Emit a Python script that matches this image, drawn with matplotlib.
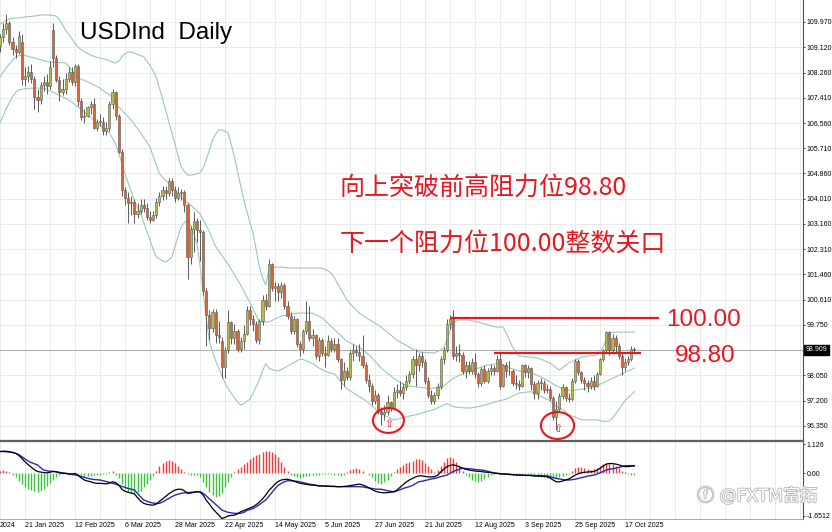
import matplotlib
matplotlib.use("Agg")
import matplotlib.pyplot as plt
import matplotlib.patheffects as pe
from matplotlib.patches import Ellipse

# ---------------- data (daily bars, index 0 = 9 Jan 2025) ----------------
opens = [
    109.15, 109.45, 109.75, 109.95, 109.30, 109.05, 108.95, 109.30, 108.05, 108.15,
    108.30, 108.05, 107.45, 107.35, 107.85, 107.95, 107.80, 109.70, 108.75, 108.00,
    107.60, 107.70, 108.05, 108.30, 107.95, 108.50, 107.30, 106.75, 106.80, 107.10,
    107.20, 106.40, 106.60, 106.60, 106.30, 106.40, 107.20, 107.60, 106.80, 105.60,
    104.30, 104.05, 103.85, 103.90, 103.50, 103.60, 103.80, 103.70, 103.40, 103.30,
    103.45, 103.90, 104.10, 104.30, 104.20, 104.60, 104.30, 104.05, 104.20, 104.25,
    103.80, 102.05, 103.00, 103.25, 102.95, 102.90, 100.90, 100.10, 99.65, 100.20,
    99.40, 99.20, 98.35, 98.90, 99.85, 99.30, 99.55, 98.95, 99.20, 99.45,
    100.25, 99.95, 99.80, 99.25, 99.90, 100.60, 100.40, 101.80, 101.00, 101.05,
    100.85, 101.10, 100.40, 100.05, 99.55, 99.95, 99.10, 98.95, 99.55, 99.90,
    99.30, 99.40, 98.70, 99.25, 98.80, 98.75, 99.20, 98.95, 99.10, 98.60,
    97.90, 98.20, 98.00, 98.80, 98.90, 98.85, 98.70, 98.40, 97.90, 97.70,
    97.20, 97.40, 96.85, 96.75, 96.80, 97.15, 96.95, 97.50, 97.55, 97.45,
    97.65, 97.85, 98.10, 98.60, 98.40, 98.70, 98.50, 97.85, 97.40, 97.20,
    97.40, 97.65, 98.60, 98.90, 99.80, 99.95, 98.70, 98.80, 98.75, 98.20,
    98.40, 98.20, 98.50, 98.10, 97.80, 98.25, 97.85, 98.20, 98.30, 98.20,
    98.60, 97.70, 98.40, 98.20, 98.20, 97.80, 97.75, 97.70, 98.40, 98.15,
    98.30, 97.75, 97.45, 97.80, 97.80, 97.55, 97.60, 97.30, 96.65, 96.90,
    97.35, 97.65, 97.30, 97.25, 97.85, 98.55, 98.15, 97.90, 97.80, 97.70,
    97.85, 97.70, 98.10, 98.60, 98.90, 99.50, 98.90, 99.30, 99.05, 98.70,
    98.35, 98.50, 98.60, 98.95,
]
highs = [
    109.55, 109.95, 110.25, 110.00, 109.45, 109.20, 109.65, 109.55, 108.45, 108.50,
    108.55, 108.15, 107.70, 107.95, 108.15, 108.20, 108.65, 109.95, 108.85, 108.15,
    108.05, 108.25, 108.45, 108.45, 108.55, 108.55, 107.40, 107.05, 107.15, 107.30,
    107.40, 106.70, 106.85, 106.75, 106.60, 107.30, 107.70, 107.65, 106.85, 105.70,
    104.40, 104.25, 104.10, 104.00, 103.85, 104.00, 104.00, 103.85, 103.60, 103.60,
    104.05, 104.25, 104.45, 104.45, 104.70, 104.70, 104.45, 104.40, 104.35, 104.30,
    103.85, 103.10, 103.55, 103.35, 103.30, 102.95, 101.00, 100.25, 100.30, 100.30,
    99.90, 99.35, 99.00, 100.25, 99.90, 99.80, 99.60, 99.35, 99.75, 100.40,
    100.40, 100.10, 99.90, 99.95, 100.75, 100.80, 101.98, 101.85, 101.20, 101.15,
    101.20, 101.15, 100.55, 100.20, 100.05, 100.00, 99.20, 99.60, 100.55, 100.40,
    99.60, 99.45, 99.35, 99.30, 99.05, 99.40, 99.30, 99.30, 99.30, 98.65,
    98.50, 98.35, 98.90, 99.10, 99.05, 99.10, 99.40, 98.50, 98.10, 97.80,
    97.55, 97.45, 97.00, 97.05, 97.40, 97.20, 97.65, 97.75, 97.85, 97.80,
    98.05, 98.20, 98.70, 98.95, 98.80, 98.85, 98.60, 98.00, 97.55, 97.50,
    97.80, 98.70, 99.00, 99.95, 100.10, 100.25, 99.05, 99.10, 98.85, 98.55,
    98.55, 98.65, 98.80, 98.15, 98.35, 98.40, 98.30, 98.45, 98.40, 98.75,
    98.85, 98.45, 98.50, 98.55, 98.25, 98.05, 97.90, 98.45, 98.45, 98.40,
    98.35, 97.85, 97.90, 97.95, 97.90, 97.75, 97.70, 97.35, 97.20, 97.45,
    97.75, 97.70, 97.45, 97.95, 98.60, 98.60, 98.20, 98.00, 97.90, 98.00,
    98.05, 98.15, 98.65, 98.95, 99.56, 99.55, 99.45, 99.40, 99.15, 98.80,
    98.65, 98.70, 99.05, 99.00,
]
lows = [
    108.95, 109.30, 109.55, 109.20, 108.85, 108.75, 108.90, 107.85, 107.80, 107.95,
    107.90, 107.05, 106.95, 107.20, 107.65, 107.55, 107.70, 108.45, 107.95, 107.30,
    107.50, 107.55, 107.95, 107.85, 107.80, 107.15, 106.65, 106.55, 106.75, 106.85,
    106.35, 106.30, 106.45, 106.15, 106.15, 106.30, 107.05, 106.65, 105.55, 104.10,
    103.80, 103.20, 103.45, 103.20, 103.35, 103.50, 103.55, 103.30, 103.20, 103.25,
    103.35, 103.75, 103.95, 104.00, 104.10, 104.10, 103.90, 103.95, 103.95, 103.55,
    101.30, 101.80, 102.20, 102.55, 101.90, 100.75, 99.05, 99.25, 99.50, 99.15,
    99.15, 97.95, 97.95, 98.80, 99.10, 99.10, 98.85, 98.85, 98.95, 99.40,
    99.75, 99.55, 99.15, 99.10, 99.75, 100.25, 100.35, 100.90, 100.55, 100.55,
    100.65, 100.30, 99.95, 99.45, 99.45, 99.00, 98.70, 98.80, 99.45, 99.20,
    99.05, 98.60, 98.55, 98.70, 98.35, 98.70, 98.85, 98.85, 98.50, 97.60,
    97.70, 97.90, 97.90, 98.55, 98.70, 98.55, 98.30, 97.80, 97.50, 97.05,
    97.10, 96.75, 96.37, 96.55, 96.70, 96.85, 96.90, 97.30, 97.35, 97.25,
    97.55, 97.75, 97.95, 97.70, 98.20, 98.35, 97.75, 97.30, 97.10, 97.10,
    97.25, 97.60, 98.45, 98.85, 99.60, 98.60, 98.55, 98.50, 98.10, 97.95,
    98.10, 98.10, 97.95, 97.65, 97.70, 97.80, 97.80, 98.05, 98.05, 98.15,
    97.60, 97.65, 98.00, 98.05, 97.70, 97.60, 97.55, 97.65, 98.00, 97.95,
    97.55, 97.25, 97.25, 97.55, 97.45, 97.45, 97.20, 96.55, 96.22, 96.80,
    97.25, 97.20, 97.15, 97.20, 97.80, 98.05, 97.80, 97.55, 97.50, 97.60,
    97.55, 97.65, 98.05, 98.55, 98.85, 98.75, 98.85, 98.80, 98.60, 98.05,
    98.20, 98.40, 98.55, 98.85,
]
closes = [
    109.45, 109.75, 109.95, 109.30, 109.05, 108.95, 109.50, 108.05, 108.15, 108.30,
    108.05, 107.45, 107.35, 107.85, 107.95, 107.80, 108.45, 108.75, 108.00, 107.60,
    107.70, 108.05, 108.30, 107.95, 108.50, 107.30, 106.75, 106.80, 107.10, 107.20,
    106.40, 106.60, 106.60, 106.30, 106.40, 107.20, 107.60, 106.80, 105.60, 104.30,
    104.05, 103.85, 103.90, 103.50, 103.60, 103.80, 103.70, 103.40, 103.30, 103.45,
    103.90, 104.10, 104.30, 104.20, 104.60, 104.30, 104.05, 104.20, 104.25, 103.80,
    102.05, 103.00, 103.25, 102.95, 102.90, 100.90, 100.10, 99.65, 100.20, 99.40,
    99.35, 98.35, 98.90, 99.85, 99.30, 99.55, 98.95, 99.20, 99.45, 100.25,
    99.95, 99.80, 99.25, 99.90, 100.60, 100.40, 101.80, 101.00, 101.05, 100.85,
    101.10, 100.40, 100.05, 99.55, 99.95, 99.10, 98.95, 99.55, 99.90, 99.30,
    99.40, 98.70, 99.25, 98.80, 98.75, 99.20, 98.95, 99.10, 98.60, 97.90,
    98.20, 98.00, 98.80, 98.90, 98.85, 98.70, 98.40, 97.90, 97.70, 97.20,
    97.40, 96.85, 96.75, 96.80, 97.15, 96.95, 97.50, 97.55, 97.45, 97.65,
    97.85, 98.10, 98.60, 98.40, 98.70, 98.50, 97.85, 97.40, 97.20, 97.40,
    97.65, 98.60, 98.90, 99.80, 99.95, 98.70, 98.80, 98.75, 98.20, 98.40,
    98.20, 98.50, 98.10, 97.80, 98.25, 97.85, 98.20, 98.30, 98.20, 98.60,
    97.70, 98.40, 98.20, 98.20, 97.80, 97.75, 97.70, 98.40, 98.15, 98.30,
    97.75, 97.45, 97.80, 97.80, 97.55, 97.60, 97.30, 96.65, 96.90, 97.35,
    97.65, 97.30, 97.25, 97.85, 98.55, 98.15, 97.90, 97.80, 97.70, 97.85,
    97.70, 98.10, 98.60, 98.90, 99.50, 98.90, 99.30, 99.05, 98.70, 98.35,
    98.50, 98.60, 98.95, 98.91,
]

# Bollinger bands as drawn on the chart
bb_upper = [
    109.90, 109.96, 110.02, 110.07, 110.09, 110.10, 110.11, 110.12, 110.14, 110.15,
    110.16, 110.17, 110.19, 110.20, 110.21, 110.21, 110.20, 110.19, 110.17, 110.05,
    109.88, 109.70, 109.55, 109.40, 109.25, 109.12, 109.03, 108.97, 108.91, 108.86,
    108.81, 108.78, 108.76, 108.73, 108.70, 108.66, 108.62, 108.59, 108.65, 108.80,
    108.90, 108.96, 108.95, 108.92, 108.88, 108.84, 108.79, 108.65, 108.50, 108.32,
    108.11, 107.75, 107.38, 107.00, 106.62, 106.23, 105.85, 105.45, 105.08, 104.93,
    104.81, 104.80, 104.82, 104.85, 104.88, 105.05, 105.32, 105.65, 105.99, 106.18,
    106.33, 106.33, 106.29, 106.23, 105.85, 105.42, 104.95, 104.45, 103.97, 103.58,
    103.20, 102.85, 102.28, 101.71, 101.35, 101.10, 101.60, 101.68, 101.70, 101.70,
    101.70, 101.69, 101.68, 101.67, 101.67, 101.67, 101.67, 101.67, 101.67, 101.67,
    101.67, 101.67, 101.67, 101.67, 101.62, 101.57, 101.50, 101.35, 101.15, 100.97,
    100.78, 100.59, 100.47, 100.36, 100.25, 100.15, 100.08, 100.01, 99.94, 99.88,
    99.81, 99.75, 99.68, 99.59, 99.50, 99.42, 99.33, 99.24, 99.18, 99.12,
    99.06, 99.00, 98.94, 98.89, 98.84, 98.83, 98.82, 98.82, 98.81, 98.81,
    98.86, 98.91, 98.97, 99.24, 99.55, 99.82, 99.88, 99.92, 99.92, 99.92,
    99.92, 99.90, 99.87, 99.85, 99.82, 99.79, 99.76, 99.73, 99.70, 99.68,
    99.68, 99.68, 99.48, 99.25, 99.01, 98.85, 98.71, 98.70, 98.69, 98.67,
    98.66, 98.65, 98.64, 98.60, 98.56, 98.51, 98.47, 98.39, 98.31, 98.23,
    98.31, 98.39, 98.47, 98.52, 98.57, 98.62, 98.67, 98.68, 98.70, 98.71,
    98.72, 98.74, 98.85, 99.01, 99.25, 99.48, 99.50, 99.51, 99.51, 99.51,
    99.51, 99.51, 99.51, 99.51,
]
bb_middle = [
    108.12, 108.27, 108.42, 108.56, 108.68, 108.79, 108.83, 108.86, 108.84, 108.81,
    108.78, 108.76, 108.73, 108.70, 108.67, 108.64, 108.62, 108.62, 108.61, 108.60,
    108.60, 108.59, 108.47, 108.34, 108.21, 108.08, 108.04, 108.00, 107.95, 107.91,
    107.85, 107.80, 107.74, 107.66, 107.59, 107.51, 107.44, 107.27, 107.10, 106.99,
    106.88, 106.77, 106.66, 106.52, 106.37, 106.23, 106.07, 105.91, 105.75, 105.45,
    105.15, 104.85, 104.74, 104.63, 104.52, 104.41, 104.30, 104.18, 104.07, 103.95,
    103.88, 103.80, 103.70, 103.60, 103.50, 103.30, 103.10, 102.90, 102.65, 102.40,
    102.25, 102.10, 101.95, 101.80, 101.62, 101.45, 101.28, 101.10, 100.90, 100.70,
    100.50, 100.28, 100.07, 99.85, 99.85, 99.85, 99.85, 99.90, 99.95, 100.00,
    100.05, 100.07, 100.09, 100.11, 100.13, 100.15, 100.15, 100.15, 100.15, 100.15,
    100.15, 100.10, 100.05, 100.00, 99.90, 99.80, 99.70, 99.60, 99.50, 99.40,
    99.30, 99.20, 99.15, 99.10, 99.05, 99.00, 98.92, 98.83, 98.75, 98.64,
    98.53, 98.41, 98.30, 98.21, 98.12, 98.04, 97.95, 97.89, 97.83, 97.76,
    97.70, 97.69, 97.68, 97.66, 97.65, 97.64, 97.63, 97.61, 97.60, 97.63,
    97.65, 97.68, 97.70, 97.78, 97.87, 97.95, 98.00, 98.05, 98.10, 98.14,
    98.18, 98.21, 98.25, 98.29, 98.33, 98.36, 98.40, 98.41, 98.43, 98.44,
    98.45, 98.40, 98.35, 98.30, 98.27, 98.23, 98.20, 98.19, 98.18, 98.16,
    98.15, 98.10, 98.05, 98.00, 97.95, 97.89, 97.83, 97.76, 97.70, 97.65,
    97.60, 97.55, 97.55, 97.55, 97.55, 97.57, 97.58, 97.60, 97.62, 97.63,
    97.65, 97.70, 97.75, 97.80, 97.85, 97.90, 97.95, 98.00, 98.05, 98.10,
    98.15, 98.20, 98.25, 98.30,
]
bb_lower = [
    106.56, 106.80, 107.05, 107.25, 107.45, 107.60, 107.68, 107.70, 107.72, 107.73,
    107.74, 107.74, 107.74, 107.74, 107.74, 107.70, 107.65, 107.60, 107.55, 107.50,
    107.45, 107.40, 107.34, 107.27, 107.19, 107.10, 107.00, 106.92, 106.84, 106.76,
    106.67, 106.58, 106.49, 106.40, 106.31, 106.23, 106.05, 105.85, 105.55, 105.20,
    104.85, 104.55, 104.25, 103.95, 103.70, 103.53, 103.20, 102.90, 102.62, 102.30,
    102.04, 101.98, 101.92, 101.87, 101.95, 102.04, 102.40, 102.75, 103.06, 103.20,
    103.29, 103.10, 102.85, 102.50, 101.75, 100.90, 100.00, 99.20, 98.85, 98.55,
    98.30, 98.05, 97.80, 97.60, 97.45, 97.30, 97.15, 97.05, 97.10, 97.18,
    97.25, 97.45, 97.68, 97.90, 98.20, 98.45, 98.30, 98.25, 98.22, 98.20,
    98.25, 98.30, 98.36, 98.42, 98.48, 98.54, 98.60, 98.58, 98.55, 98.50,
    98.45, 98.38, 98.30, 98.25, 98.20, 98.15, 98.12, 98.10, 97.98, 97.85,
    97.72, 97.60, 97.53, 97.47, 97.40, 97.33, 97.27, 97.20, 97.11, 97.02,
    96.93, 96.84, 96.75, 96.70, 96.65, 96.60, 96.55, 96.57, 96.60, 96.62,
    96.65, 96.68, 96.70, 96.72, 96.75, 96.78, 96.81, 96.84, 96.87, 96.90,
    96.95, 97.00, 97.05, 97.10, 97.05, 97.00, 96.98, 96.97, 96.96, 96.95,
    96.95, 96.96, 96.98, 97.00, 97.02, 97.05, 97.08, 97.11, 97.14, 97.17,
    97.20, 97.22, 97.25, 97.30, 97.35, 97.40, 97.45, 97.47, 97.48, 97.49,
    97.50, 97.45, 97.40, 97.35, 97.30, 97.25, 97.20, 97.10, 97.00, 96.95,
    96.90, 96.82, 96.72, 96.68, 96.65, 96.60, 96.55, 96.55, 96.55, 96.55,
    96.55, 96.55, 96.52, 96.50, 96.50, 96.52, 96.60, 96.75, 96.90, 97.05,
    97.20, 97.30, 97.40, 97.50,
]

# MACD sub-window as drawn
macd_main = [
    0.85, 0.86, 0.86, 0.84, 0.82, 0.78, 0.70, 0.58, 0.45, 0.34,
    0.24, 0.14, 0.07, 0.05, 0.03, 0.02, 0.04, 0.08, 0.06, 0.02,
    0.00, 0.00, -0.02, -0.03, 0.00, -0.08, -0.18, -0.26, -0.30, -0.33,
    -0.37, -0.39, -0.39, -0.40, -0.41, -0.38, -0.33, -0.36, -0.46, -0.62,
    -0.70, -0.74, -0.77, -0.80, -0.95, -1.08, -1.17, -1.21, -1.23, -1.24,
    -1.20, -1.10, -1.00, -0.90, -0.80, -0.72, -0.65, -0.62, -0.62, -0.68,
    -0.78, -0.77, -0.74, -0.72, -0.72, -0.85, -1.05, -1.20, -1.37, -1.50,
    -1.62, -1.76, -1.72, -1.66, -1.64, -1.63, -1.58, -1.50, -1.45, -1.40,
    -1.35, -1.30, -1.22, -1.12, -1.00, -0.85, -0.68, -0.55, -0.42, -0.32,
    -0.26, -0.24, -0.23, -0.26, -0.30, -0.35, -0.39, -0.41, -0.43, -0.45,
    -0.46, -0.47, -0.49, -0.49, -0.50, -0.50, -0.51, -0.51, -0.52, -0.52,
    -0.51, -0.50, -0.48, -0.46, -0.44, -0.42, -0.45, -0.50, -0.56, -0.63,
    -0.69, -0.73, -0.75, -0.76, -0.75, -0.74, -0.72, -0.65, -0.55, -0.44,
    -0.34, -0.26, -0.20, -0.14, -0.10, -0.10, -0.12, -0.14, -0.14, -0.13,
    -0.08, 0.05, 0.16, 0.26, 0.31, 0.33, 0.30, 0.26, 0.20, 0.16,
    0.13, 0.11, 0.09, 0.08, 0.07, 0.05, 0.04, 0.03, 0.01, 0.00,
    -0.02, -0.03, -0.03, -0.04, -0.05, -0.06, -0.07, -0.07, -0.08, -0.08,
    -0.09, -0.10, -0.11, -0.11, -0.12, -0.13, -0.18, -0.26, -0.33, -0.33,
    -0.30, -0.26, -0.22, -0.15, -0.07, -0.02, 0.02, 0.04, 0.05, 0.06,
    0.07, 0.12, 0.20, 0.28, 0.36, 0.38, 0.38, 0.36, 0.33, 0.29,
    0.26, 0.26, 0.28, 0.29,
]
macd_signal = [
    0.85, 0.85, 0.84, 0.83, 0.81, 0.78, 0.73, 0.65, 0.56, 0.48,
    0.42, 0.37, 0.33, 0.22, 0.13, 0.10, 0.08, 0.07, 0.06, 0.04,
    0.02, 0.00, -0.02, -0.04, -0.06, -0.09, -0.12, -0.16, -0.19, -0.22,
    -0.24, -0.25, -0.26, -0.29, -0.32, -0.35, -0.39, -0.42, -0.46, -0.51,
    -0.55, -0.59, -0.62, -0.65, -0.78, -0.92, -1.04, -1.09, -1.13, -1.16,
    -1.17, -1.17, -1.12, -1.05, -0.98, -0.91, -0.85, -0.81, -0.78, -0.76,
    -0.75, -0.74, -0.73, -0.72, -0.72, -0.78, -0.88, -0.99, -1.10, -1.21,
    -1.32, -1.43, -1.48, -1.52, -1.54, -1.56, -1.56, -1.56, -1.52, -1.45,
    -1.41, -1.37, -1.30, -1.22, -1.13, -1.04, -0.90, -0.75, -0.60, -0.47,
    -0.39, -0.33, -0.29, -0.29, -0.30, -0.31, -0.33, -0.36, -0.39, -0.42,
    -0.44, -0.46, -0.49, -0.49, -0.50, -0.50, -0.51, -0.51, -0.52, -0.52,
    -0.52, -0.52, -0.52, -0.52, -0.52, -0.52, -0.53, -0.55, -0.57, -0.59,
    -0.61, -0.62, -0.62, -0.65, -0.68, -0.70, -0.72, -0.69, -0.64, -0.59,
    -0.55, -0.52, -0.47, -0.40, -0.33, -0.31, -0.28, -0.25, -0.22, -0.20,
    -0.17, -0.13, -0.10, -0.07, 0.00, 0.07, 0.12, 0.16, 0.20, 0.19,
    0.18, 0.17, 0.15, 0.14, 0.13, 0.11, 0.08, 0.05, 0.02, 0.00,
    -0.01, -0.02, -0.03, -0.04, -0.05, -0.06, -0.07, -0.07, -0.08, -0.08,
    -0.08, -0.09, -0.09, -0.09, -0.10, -0.10, -0.13, -0.17, -0.20, -0.22,
    -0.24, -0.26, -0.26, -0.25, -0.23, -0.20, -0.17, -0.14, -0.11, -0.09,
    -0.07, -0.03, 0.02, 0.07, 0.13, 0.16, 0.18, 0.20, 0.23, 0.26,
    0.30, 0.30, 0.30, 0.30,
]
macd_hist = [
    0.10, 0.12, 0.10, 0.06,
    -0.05, -0.15, -0.30, -0.42, -0.52, -0.60, -0.66, -0.70, -0.72, -0.70, -0.62, -0.50, -0.38, -0.25, -0.14, -0.06,
    -0.03, -0.04, -0.05, -0.06, -0.06, -0.05, -0.08, -0.10, -0.11, -0.10, -0.08, -0.06, -0.05, -0.04, -0.02, 0.05,
    0.10,
    -0.05, -0.20, -0.42, -0.60, -0.72, -0.76, -0.77, -0.74, -0.68, -0.55, -0.40, -0.25, -0.10,
    0.10, 0.28, 0.42, 0.50, 0.52, 0.50, 0.42, 0.30, 0.16, 0.04,
    -0.03, -0.06, -0.05, -0.08, -0.15, -0.35, -0.55, -0.72, -0.85, -0.91, -0.88, -0.75, -0.55, -0.35, -0.15,
    0.05, 0.15, 0.25, 0.35, 0.45, 0.55, 0.63, 0.70, 0.76, 0.82, 0.86, 0.87, 0.84, 0.76, 0.62, 0.45, 0.25, 0.10,
    -0.05, -0.10, -0.15, -0.17, -0.15, -0.12, -0.10, -0.08, -0.06, -0.05, -0.04, -0.03, -0.02, -0.03, -0.05, -0.08, -0.10, -0.05,
    0.05, 0.12, 0.18, 0.20, 0.18, 0.10, 0.02, -0.05,
    -0.15, -0.28, -0.38, -0.40, -0.35, -0.25, -0.12,
    0.05, 0.15, 0.25, 0.33, 0.40, 0.46, 0.50, 0.54, 0.55, 0.52, 0.42, 0.30, 0.15, 0.04,
    0.12, 0.30, 0.45, 0.58, 0.65, 0.60, 0.45, 0.28, 0.10,
    -0.05, -0.15, -0.25, -0.31, -0.33, -0.30, -0.24, -0.15, -0.07, -0.02,
    0.00, -0.02, -0.03, -0.04, -0.05, -0.06, -0.06, -0.05, -0.05, -0.04, -0.05, -0.07, -0.10, -0.12, -0.14, -0.16,
    -0.18, -0.20, -0.20, -0.18, -0.15, -0.10, -0.05, -0.02,
    0.10, 0.20, 0.26, 0.25, 0.20, 0.15, 0.12, 0.15, 0.22, 0.30, 0.36, 0.39, 0.38, 0.35, 0.30, 0.20, 0.10, 0.04, -0.04, -0.05, -0.05,
]

# bottom date scale (first label is the tail of a label cut by the left edge)
date_labels = ["2024", "21 Jan 2025", "12 Feb 2025", "6 Mar 2025", "28 Mar 2025",
               "22 Apr 2025", "14 May 2025", "5 Jun 2025", "27 Jun 2025", "21 Jul 2025",
               "12 Aug 2025", "3 Sep 2025", "25 Sep 2025", "17 Oct 2025"]
date_label_bars = [0, 8, 24, 40, 56, 72, 88, 104, 120, 136, 152, 168, 184, 200]
grid_step_bars = 8

price_ticks = [109.970, 109.120, 108.260, 107.410, 106.560, 105.710, 104.860, 104.010,
               103.160, 102.310, 101.460, 100.610, 99.750, 98.050, 97.200, 96.350]
extra_grid_prices = [98.900]
current_price = 98.909
macd_ticks = [1.126, 0.0, -1.6512]
macd_tick_labels = ["1.126", "0.00", "-1.6512"]

resistance_levels = [100.00, 98.80]
resistance_labels = ["100.00", "98.80"]
resistance_start_bar = [144, 158]
resistance_end_bar = [211, 205]
resistance_label_bar = [213, 216]

circle_bars = [124.3, 178.4]
circle_prices = [96.53, 96.36]
circle_w_bars = [9.9, 10.6]
circle_h_price = [0.84, 0.91]

title_text = "USDInd  Daily"
note_lines = ["向上突破前高阻力位98.80", "下一个阻力位100.00整数关口"]
watermark = "ⓕ @FXTM富拓"

# ---------------- figure ----------------
W, H, DPI = 832, 532, 100
fig = plt.figure(figsize=(W / DPI, H / DPI), dpi=DPI, facecolor="white")


def fx(px):
    return px / W


def fy(py):
    return 1 - py / H


ax = fig.add_axes([0, fy(440), fx(803), 440 / H])
ax2 = fig.add_axes([0, fy(519), fx(803), (519 - 441) / H])

n = len(closes)
assert len(opens) == n and len(highs) == n and len(lows) == n
assert len(bb_upper) == n and len(bb_middle) == n and len(bb_lower) == n
assert len(macd_main) == n and len(macd_signal) == n and len(macd_hist) == n
idx = list(range(n))

X_MAX = 803 / 3.125
for a in (ax, ax2):
    a.set_xlim(0, X_MAX)
    a.set_facecolor("white")
    for s in ("left", "top"):
        a.spines[s].set_visible(False)
    a.spines["right"].set_color("#505050")
    a.spines["right"].set_linewidth(0.8)
    a.spines["bottom"].set_color("#606060")
    a.spines["bottom"].set_linewidth(0.9)
    a.set_xticks([])
    for g in range(0, int(X_MAX) + 1, grid_step_bars):
        a.axvline(g, color="#e6e6e6", lw=0.6, zorder=0)

ax2.spines["top"].set_visible(True)
ax2.spines["top"].set_color("#606060")
ax2.spines["top"].set_linewidth(0.9)
ax2.spines["bottom"].set_color("#9a9a9a")
ax2.spines["bottom"].set_linewidth(0.6)

# main price panel
ax.set_ylim(95.871, 110.712)
for p in price_ticks + extra_grid_prices:
    ax.axhline(p, color="#e6e6e6", lw=0.6, zorder=0)
ax.axhline(current_price, color="#b0b0b0", lw=0.8, zorder=1)

for band in (bb_upper, bb_middle, bb_lower):
    ax.plot(idx, band, color="#9cc7bd", lw=0.8, zorder=2)

ax.vlines(idx, lows, highs, color="#5a5a5a", lw=0.7, zorder=3)
body_bottom = [min(o, c) for o, c in zip(opens, closes)]
body_height = [max(abs(c - o), 0.015) for o, c in zip(opens, closes)]
body_color = ["#b2bc44" if c >= o else "#e2612e" for o, c in zip(opens, closes)]
ax.bar(idx, body_height, bottom=body_bottom, width=0.66, color=body_color,
       edgecolor="#555555", linewidth=0.4, zorder=4)

ax.yaxis.tick_right()
ax.set_yticks(price_ticks)
ax.set_yticklabels([f"{p:.3f}" for p in price_ticks])
ax.tick_params(axis="y", labelsize=5.0, pad=1.0, length=1.6, width=0.5,
               colors="black", labelfontfamily="Liberation Sans")

ax.annotate(f"{current_price:.3f}", xy=(1, current_price),
            xycoords=("axes fraction", "data"), xytext=(1.8, 0),
            textcoords="offset points", va="center", ha="left",
            fontsize=5.0, family="Liberation Sans", color="white",
            bbox=dict(boxstyle="square,pad=0.18", fc="black", ec="black"),
            annotation_clip=False, zorder=10)

red = "#e8161f"
for lvl, lab, s, e, lb in zip(resistance_levels, resistance_labels,
                              resistance_start_bar, resistance_end_bar,
                              resistance_label_bar):
    ax.hlines(lvl, s, e, color=red, lw=1.6, zorder=6)
    ax.annotate(lab, xy=(lb, lvl), xytext=(0, -6.3), textcoords="offset points",
                ha="left", va="baseline", fontsize=17.5, color=red,
                family="Liberation Sans", zorder=7)

for cb, cp, cw, ch in zip(circle_bars, circle_prices, circle_w_bars, circle_h_price):
    ax.add_patch(Ellipse((cb, cp), cw, ch, fill=False, edgecolor=red, lw=1.5, zorder=7))
    ax.annotate("⇧", xy=(cb, cp), xytext=(0.3, -2.5), textcoords="offset points",
                ha="center", va="center", fontsize=8, color=red,
                family="DejaVu Sans", zorder=8)

# MACD panel
ax2.set_ylim(-1.78, 1.26)
hist_col = ["#ef3b3b" if v >= 0 else "#3fc23f" for v in macd_hist]
ax2.vlines(idx, 0, macd_hist, colors=hist_col, lw=1.0, zorder=2)
ax2.plot(idx, macd_main, color="black", lw=0.9, zorder=4)
ax2.plot(idx, macd_signal, color="#2a2ab8", lw=1.0, zorder=3)
ax2.yaxis.tick_right()
ax2.set_yticks(macd_ticks)
ax2.set_yticklabels(macd_tick_labels)
ax2.tick_params(axis="y", labelsize=5.0, pad=1.0, length=1.6, width=0.5,
                colors="black", labelfontfamily="Liberation Sans")

for lab, b in zip(date_labels, date_label_bars):
    ax2.annotate(lab, xy=(b, 0), xycoords=("data", "axes fraction"),
                 xytext=(0, -2.4), textcoords="offset points", ha="left", va="top",
                 fontsize=5.0, family="Liberation Sans", color="black",
                 annotation_clip=False)

# texts
fig.text(fx(80), fy(38.5), title_text, fontsize=17.5, family="Liberation Sans",
         color="black", va="baseline", ha="left")
fig.text(fx(340), fy(188), note_lines[0], fontsize=18, family=["Noto Sans CJK SC"],
         color=red, va="center", ha="left")
fig.text(fx(340), fy(244), note_lines[1], fontsize=18, family=["Noto Sans CJK SC"],
         color=red, va="center", ha="left")
fig.text(fx(697), fy(496), watermark, fontsize=12.3,
         family=["DejaVu Sans", "Noto Sans CJK SC"], color="white",
         va="center", ha="left", zorder=20,
         path_effects=[pe.withStroke(linewidth=1.2, foreground="#b4b4b4")])

fig.savefig("out.png", dpi=DPI, facecolor="white")
